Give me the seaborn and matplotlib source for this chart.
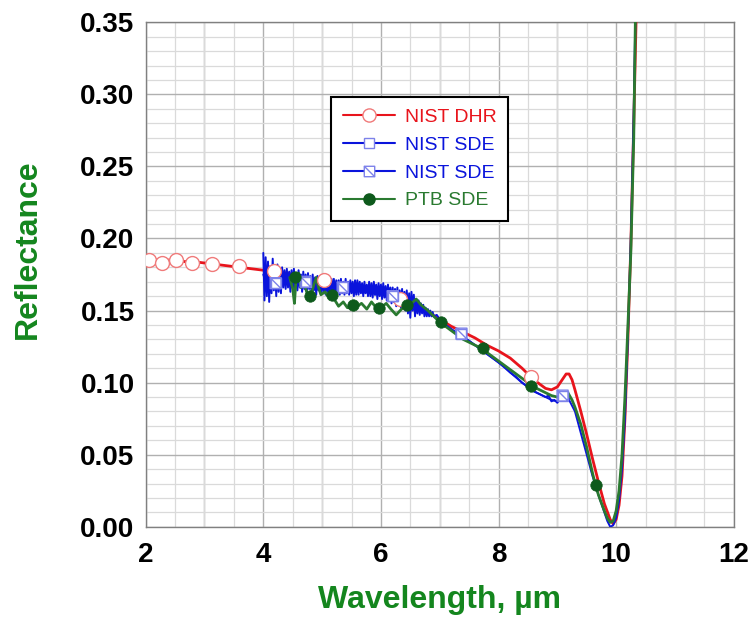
import numpy as np
import pandas as pd
import matplotlib
matplotlib.use("Agg")
import matplotlib.pyplot as plt
from matplotlib.path import Path
from matplotlib.lines import Line2D
from matplotlib.ticker import MultipleLocator, FormatStrFormatter
import seaborn as sns

# ---------------- data ----------------
# NIST DHR (directional-hemispherical reflectance)
dhr_wl = [2.0, 2.2, 2.4, 2.6, 2.8, 3.0, 3.2, 3.4, 3.6, 3.8, 4.0, 4.2, 4.4, 4.6,
          4.8, 5.0, 5.2, 5.4, 5.6, 5.8, 6.0, 6.3, 6.6, 6.8, 7.0, 7.2, 7.4,
          7.6, 7.8, 8.0, 8.2, 8.4, 8.5, 8.6, 8.7, 8.8, 8.9, 9.0, 9.1, 9.15, 9.2,
          9.25, 9.3, 9.4, 9.5, 9.6, 9.7, 9.8, 9.9, 9.95, 10.0, 10.05, 10.1,
          10.15, 10.2, 10.25, 10.3, 10.35]
dhr_r = [0.186, 0.185, 0.185, 0.184, 0.184, 0.183, 0.182, 0.181, 0.180, 0.179,
         0.178, 0.177, 0.176, 0.174, 0.172, 0.171, 0.169, 0.168, 0.166, 0.165,
         0.163, 0.159, 0.154, 0.149, 0.144, 0.139, 0.135, 0.131, 0.126,
         0.122, 0.117, 0.110, 0.106, 0.102, 0.099, 0.096, 0.095, 0.097, 0.103,
         0.106, 0.106, 0.102, 0.095, 0.080, 0.064, 0.047, 0.031, 0.016, 0.005,
         0.002, 0.005, 0.015, 0.035, 0.075, 0.130, 0.195, 0.280, 0.370]
dhr_mark_wl = [2.06, 2.27, 2.51, 2.78, 3.12, 3.58, 4.18, 5.04, 6.32, 8.55]
dhr_mark_r = [0.185, 0.183, 0.185, 0.183, 0.182, 0.181, 0.1775, 0.171, 0.158, 0.104]

# NIST SDE, first data set (0.02 um sampling over 4.00-6.90 um, then 6.95-9.2 um)
sde1_fine_r = [
    0.190, 0.157, 0.187, 0.160, 0.184, 0.156, 0.181, 0.162, 0.186, 0.164,
    0.180, 0.160, 0.182, 0.163, 0.178, 0.162, 0.180, 0.166, 0.178, 0.165,
    0.179, 0.166, 0.177, 0.163, 0.178, 0.166, 0.179, 0.165, 0.176, 0.164,
    0.178, 0.166, 0.175, 0.163, 0.177, 0.165, 0.175, 0.163, 0.176, 0.165,
    0.174, 0.162, 0.175, 0.164, 0.173, 0.161, 0.174, 0.164, 0.172, 0.162,
    0.173, 0.163, 0.172, 0.161, 0.173, 0.163, 0.171, 0.161, 0.172, 0.162,
    0.172, 0.162, 0.171, 0.162, 0.171, 0.161, 0.172, 0.162, 0.170, 0.161,
    0.172, 0.162, 0.170, 0.161, 0.171, 0.162, 0.170, 0.160, 0.171, 0.161,
    0.171, 0.161, 0.170, 0.162, 0.169, 0.160, 0.170, 0.162, 0.168, 0.160,
    0.170, 0.160, 0.169, 0.159, 0.170, 0.161, 0.168, 0.158, 0.169, 0.160,
    0.168, 0.158, 0.169, 0.159, 0.167, 0.157, 0.168, 0.158, 0.166, 0.155,
    0.166, 0.156, 0.165, 0.153, 0.166, 0.155, 0.164, 0.152, 0.165, 0.154,
    0.163, 0.150, 0.164, 0.148, 0.162, 0.145, 0.163, 0.150, 0.161, 0.146,
    0.158, 0.148, 0.157, 0.147, 0.155, 0.148, 0.154, 0.146, 0.152, 0.146,
    0.151, 0.146, 0.150, 0.146, 0.149, 0.146]
sde1_fine_wl = np.round(np.linspace(4.0, 6.9, len(sde1_fine_r)), 3)
sde1_tail_wl = [6.95, 7.0, 7.1, 7.2, 7.3, 7.4, 7.5, 7.6, 7.7, 7.8, 7.9, 8.0,
                8.1, 8.2, 8.3, 8.4, 8.5, 8.6, 8.7, 8.8, 8.85, 8.9, 8.95, 9.0,
                9.05, 9.1, 9.15, 9.2]
sde1_tail_r = [0.147, 0.144, 0.140, 0.137, 0.134, 0.131, 0.129, 0.126, 0.123,
               0.120, 0.117, 0.114, 0.111, 0.107, 0.104, 0.100, 0.097, 0.094,
               0.092, 0.090, 0.091, 0.087, 0.088, 0.086, 0.089, 0.089, 0.091,
               0.089]

# NIST SDE, second data set (coarser sampling, full range)
sde2_wl = [4.0, 4.1, 4.2, 4.3, 4.4, 4.5, 4.6, 4.7, 4.8, 4.9, 5.0, 5.1, 5.2,
           5.3, 5.4, 5.5, 5.6, 5.7, 5.8, 5.9, 6.0, 6.1, 6.2, 6.3, 6.4, 6.5,
           6.6, 6.7, 6.8, 6.9, 7.0, 7.2, 7.4, 7.6, 7.8, 8.0, 8.2, 8.4, 8.6,
           8.8, 8.9, 9.0, 9.1, 9.2, 9.3, 9.4, 9.5, 9.6, 9.7, 9.8, 9.85, 9.9,
           9.95, 10.0, 10.05, 10.1, 10.15, 10.2, 10.25, 10.3, 10.33]
sde2_r = [0.175, 0.162, 0.178, 0.167, 0.175, 0.166, 0.174, 0.167, 0.172,
          0.165, 0.171, 0.164, 0.170, 0.163, 0.169, 0.163, 0.168, 0.162,
          0.167, 0.161, 0.165, 0.159, 0.163, 0.156, 0.160, 0.153, 0.155,
          0.149, 0.149, 0.146, 0.143, 0.137, 0.132, 0.126, 0.120, 0.114,
          0.107, 0.100, 0.094, 0.090, 0.088, 0.087, 0.090, 0.088, 0.080,
          0.065, 0.050, 0.035, 0.022, 0.010, 0.004, 0.000, 0.001, 0.006,
          0.018, 0.040, 0.075, 0.130, 0.200, 0.290, 0.360]
sde_mark_wl = [4.21, 4.72, 5.35, 6.20, 7.37, 9.09]
sde_mark_r = [0.169, 0.170, 0.166, 0.160, 0.134, 0.091]

# PTB SDE
ptb_wl = [4.45, 4.50, 4.53, 4.56, 4.60, 4.64, 4.70, 4.76, 4.80, 4.86, 4.90,
          4.94, 4.98, 5.05, 5.10, 5.16, 5.22, 5.28, 5.36, 5.43, 5.50, 5.53,
          5.60, 5.67, 5.76, 5.84, 5.90, 5.96, 6.03, 6.09, 6.17, 6.26, 6.35,
          6.45, 6.55, 6.60, 6.68, 6.80, 6.90, 7.00, 7.1, 7.2, 7.3, 7.4, 7.5,
          7.6, 7.7, 7.8, 7.9, 8.0, 8.1, 8.2, 8.3, 8.4, 8.5, 8.6, 8.7, 8.8,
          8.9, 9.0, 9.1, 9.18, 9.25, 9.3, 9.4, 9.5, 9.6, 9.65, 9.7, 9.8,
          9.85, 9.9, 9.95, 10.0, 10.05, 10.1, 10.15, 10.2, 10.25, 10.3, 10.33]
ptb_r = [0.173, 0.165, 0.155, 0.174, 0.176, 0.166, 0.168, 0.160, 0.159,
         0.168, 0.173, 0.166, 0.161, 0.163, 0.160, 0.161, 0.157, 0.153,
         0.156, 0.152, 0.152, 0.154, 0.153, 0.155, 0.151, 0.156, 0.153,
         0.152, 0.153, 0.155, 0.151, 0.147, 0.151, 0.154, 0.156, 0.158,
         0.154, 0.150, 0.146, 0.142, 0.139, 0.136, 0.133, 0.130, 0.128,
         0.126, 0.124, 0.121, 0.118, 0.115, 0.112, 0.109, 0.106, 0.103,
         0.100, 0.097, 0.095, 0.093, 0.091, 0.090, 0.091, 0.093, 0.088,
         0.083, 0.071, 0.055, 0.037, 0.029, 0.022, 0.011, 0.006, 0.003,
         0.004, 0.011, 0.025, 0.050, 0.090, 0.139, 0.190, 0.270, 0.360]
ptb_mark_wl = [4.54, 4.80, 5.16, 5.53, 5.96, 6.45, 7.03, 7.74, 8.56, 9.65]
ptb_mark_r = [0.173, 0.160, 0.161, 0.154, 0.152, 0.154, 0.142, 0.124, 0.098, 0.029]

legend_labels = ["NIST DHR", "NIST SDE", "NIST SDE", "PTB SDE"]

# ---------------- style ----------------
sns.set_theme(style="white")
plt.rcParams["font.family"] = ["Liberation Sans", "DejaVu Sans"]

RED = "#e8141c"
RED_MK = "#f07a7a"
BLUE = "#0a14dc"
BLUE_MK = "#7d82ea"
GREEN = "#2a7a30"
GREEN_MK = "#0e5a1c"
LABEL_GREEN = "#14861e"

# square outline with a "\" diagonal
slash_square = Path(
    [(-1, -1), (1, -1), (1, 1), (-1, 1), (-1, -1), (-1, 1), (1, -1)],
    [Path.MOVETO, Path.LINETO, Path.LINETO, Path.LINETO, Path.CLOSEPOLY,
     Path.MOVETO, Path.LINETO])

fig = plt.figure(figsize=(7.51, 6.19), dpi=100)
ax = fig.add_axes([0.194, 0.149, 0.783, 0.815])

sde1 = pd.DataFrame({"wl": np.concatenate([sde1_fine_wl, sde1_tail_wl]),
                     "r": np.concatenate([sde1_fine_r, sde1_tail_r])})

sns.lineplot(x=dhr_wl, y=dhr_r, ax=ax, color=RED, lw=2.0, sort=False,
             estimator=None, zorder=3)
sns.lineplot(data=sde1, x="wl", y="r", ax=ax, color=BLUE, lw=1.4, sort=False,
             estimator=None, zorder=4)
sns.lineplot(x=sde2_wl, y=sde2_r, ax=ax, color=BLUE, lw=1.4, sort=False,
             estimator=None, zorder=4)
sns.lineplot(x=ptb_wl, y=ptb_r, ax=ax, color=GREEN, lw=2.0, sort=False,
             estimator=None, zorder=5)

sns.scatterplot(x=dhr_mark_wl, y=dhr_mark_r, ax=ax, marker="o", s=100,
                facecolor="white", edgecolor=RED_MK, linewidth=1.0, zorder=6)
sns.scatterplot(x=sde_mark_wl, y=sde_mark_r, ax=ax, marker="s", s=62,
                facecolor="white", edgecolor=BLUE_MK, linewidth=1.0, zorder=6)
sns.scatterplot(x=sde_mark_wl, y=sde_mark_r, ax=ax, marker=slash_square, s=62,
                facecolor="none", edgecolor=BLUE_MK, linewidth=1.0, zorder=7)
sns.scatterplot(x=ptb_mark_wl, y=ptb_mark_r, ax=ax, marker="o", s=68,
                color=GREEN_MK, edgecolor=GREEN_MK, linewidth=0.5, zorder=8)

# ---------------- axes ----------------
ax.set_xlim(2, 12)
ax.set_ylim(0, 0.35)
ax.xaxis.set_major_locator(MultipleLocator(2))
ax.xaxis.set_minor_locator(MultipleLocator(0.5))
ax.yaxis.set_major_locator(MultipleLocator(0.05))
ax.yaxis.set_minor_locator(MultipleLocator(0.01))
ax.yaxis.set_major_formatter(FormatStrFormatter("%.2f"))
ax.grid(which="major", color="#b0b0b0", lw=1.0)
ax.grid(which="minor", color="#dadada", lw=0.9)
# darker vertical lines at every whole micrometre
for w in range(3, 12, 2):
    ax.axvline(w, color="#b0b0b0", lw=1.0, zorder=0.5)
ax.set_axisbelow(True)
for s in ax.spines.values():
    s.set_color("#808080")
    s.set_linewidth(1.0)
ax.tick_params(which="both", direction="in", color="#808080", labelsize=20,
               labelcolor="black")
ax.tick_params(axis="y", pad=8)
ax.tick_params(axis="x", pad=11)
ax.tick_params(which="major", length=5)
ax.tick_params(which="minor", length=3)
for lab in ax.get_xticklabels() + ax.get_yticklabels():
    lab.set_fontweight("bold")

ax.set_xlabel("Wavelength, µm", fontsize=23, fontweight="bold",
              color=LABEL_GREEN)
ax.set_ylabel("Reflectance", fontsize=23, fontweight="bold",
              color=LABEL_GREEN)
ax.xaxis.set_label_coords(0.5, -0.115)
ax.yaxis.set_label_coords(-0.2, 0.551)
ax.yaxis.label.set_va("center")

handles = [
    Line2D([], [], color=RED, lw=1.5, marker="o", ms=9.5, mfc="white",
           mec=RED_MK, mew=1.0),
    Line2D([], [], color=BLUE, lw=1.5, marker="s", ms=7.5, mfc="white",
           mec=BLUE_MK, mew=1.0),
    Line2D([], [], color=BLUE, lw=1.5, marker=slash_square, ms=7.5,
           mfc="white", mec=BLUE_MK, mew=1.0),
    Line2D([], [], color=GREEN, lw=1.5, marker="o", ms=8, mfc=GREEN_MK,
           mec=GREEN_MK),
]
leg = ax.legend(handles, legend_labels, loc="upper left",
                bbox_to_anchor=(0.315, 0.852), fontsize=14, frameon=True,
                fancybox=False, framealpha=1, edgecolor="black",
                handlelength=2.7, labelspacing=0.52, borderpad=0.6,
                handletextpad=0.5, borderaxespad=0)
leg.get_frame().set_linewidth(1.5)
for txt, col in zip(leg.get_texts(), [RED, BLUE, BLUE, GREEN]):
    txt.set_color(col)

fig.savefig("out.png", dpi=100)
